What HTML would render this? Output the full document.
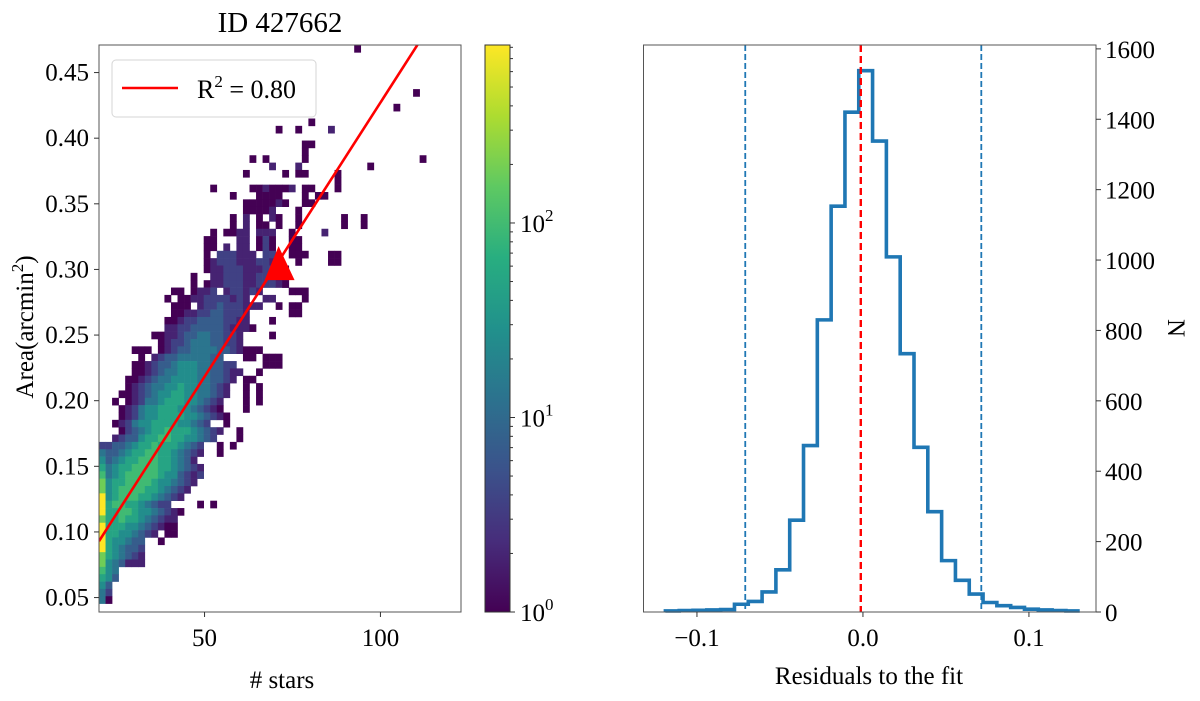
<!DOCTYPE html>
<html><head><meta charset="utf-8"><style>
body{margin:0;background:#fff}
svg{display:block;font-family:"Liberation Serif",serif}
text{fill:#000}
</style></head><body>
<svg id="chart" width="1200" height="701" viewBox="0 0 1200 701" xmlns="http://www.w3.org/2000/svg"></svg>
<script>
// ---- heatmap data: rows from top (high area) to bottom; "col:levels" segments, level 0..9 = log count scaled
const heatRows = [
"39:0","","","","","","48:0","","45:0","","32:0","27:0 30:0 35:1","","31:00","31:0","23:0 25:0 31:0 49:0",
"26:1 30:1 41:0","22:0 28:0 30:0 31:0 36:0","36:0","17:0 23:001000 29:1 31:00 36:0",
"20:0 24:0000 31:0 33:00","22:0000010 31:00","22:00000 26:1 30:0","20:0 22:1 24:0 26:1 27:0 30:0 37:0 40:0",
"20:0 22:1 24:00 27:0 30:0 37:0 40:0","17:0 19:00 21:11 24:111 29:0 34:1","16:00 21:11 24:0 25:2 26:0 29:00",
"16:00 19:1 21:11 24:020 29:00","16:0 18:2221 22:11 25:22 29:0 30:00 35:00","16:01222111221 30:0 35:00",
"16:01122211122 27:00","14:0 17:11222112211 27:00","14:0 16:0112221122211 28:0","11:00 14:0112 19:122121 29:000",
"10:0 12:0 13:0112222121 25:11 31:0","11:000 15:1223222111 27:0 29:00","11:001122332221 29:00",
"10:0012233332211 26:0","10:11223333321110","8:00 10:112334433221 26:0","9:0122344433221",
"5:000 9:0123344443321 22:000","6:0 8:12334444433 22:00 25:000","5:0012334555443322 25:000",
"5:00123445554433211 24:0","4:00123445555443321 22:00","4:0123445565544321 22:0 24:0",
"3:00123455665544321 22:0 24:0","2:0 4:012445666554321 22:0 24:0","3:0124556665543210 22:0",
"3:01245566665543210","2:012455666655432 19:0","3:0234566766654321 21:0","2:1233566776655432 21:0",
"0:2 1:233456676665432 18:0 20:0","0:4334566776654321 18:0","0:534566777665431","0:6456677776654321",
"0:7456777776553212","0:856677776554321","0:85677776654321","0:9567776654321","0:96776654322 15:0 17:0",
"0:9667765543210","0:866766543211","0:96665543210 10:00","0:966554321 10:00","0:9655433 9:0","0:9654332",
"0:8654321","0:8543111","0:754","0:653","0:53","0:42","0:40"
];
const fitIntercept = 0.00946, fitSlope = 0.004177;
const markerPoint = [71.9, 0.301];
const yTicksL = [0.05,0.10,0.15,0.20,0.25,0.30,0.35,0.40,0.45];
const xTicksL = [50,100];
// ---- histogram data
const histStart = -0.119, histWidth = 0.00832;
const histCounts = [3,4,5,6,7,22,30,57,120,261,473,830,1153,1420,1538,1338,1009,734,468,285,146,90,51,27,18,13,8,6,4,3];
const vLinesBlue = [-0.0709, 0.0713];
const vLineRed = -0.0013;
const xTicksR = [-0.1,0.0,0.1];
const xTickLabelsR = ["\u22120.1","0.0","0.1"];
const yTicksR = [0,200,400,600,800,1000,1200,1400,1600];

const svg = document.getElementById('chart');
const NS = "http://www.w3.org/2000/svg";
function mk(tag, attrs, parent){const e=document.createElementNS(NS,tag);for(const k in attrs)e.setAttribute(k,attrs[k]);(parent||svg).appendChild(e);return e;}
const vir=["#440154","#472d7b","#3b528b","#2c728e","#21918c","#28ae80","#5ec962","#addc30","#fde725"];
function viridis(t){t=Math.max(0,Math.min(1,t));const p=t*8,i=Math.min(7,Math.floor(p)),f=p-i;
 const a=vir[i],b=vir[i+1];const c=k=>Math.round(parseInt(a.substr(k,2),16)*(1-f)+parseInt(b.substr(k,2),16)*f);
 return `rgb(${c(1)},${c(3)},${c(5)})`;}

// ---------- LEFT PANEL ----------
const L={x0:99,x1:461,y0:45,y1:612,xmin:20,xmax:122.9,ymin:0.039,ymax:0.471};
const sx=v=>L.x0+(v-L.xmin)/(L.xmax-L.xmin)*(L.x1-L.x0);
const sy=v=>L.y1-(v-L.ymin)/(L.ymax-L.ymin)*(L.y1-L.y0);
const dxBin=1.86, dyBin=0.0056;
const gHeat=mk('g',{});


heatRows.forEach((row,t)=>{
 if(!row)return;
 row.split(' ').forEach(seg=>{
  const [c0,lv]=seg.split(':');
  for(let k=0;k<lv.length;k++){
   const ch=lv[k]; if(ch==='.')continue;
   const c=+c0+k, L9=+ch;
   const xa=L.xmin+c*dxBin, yt=L.ymax-t*dyBin;
   const r=mk('rect',{x:sx(xa),y:sy(yt),width:sx(xa+dxBin)-sx(xa)+0.3,height:sy(yt-dyBin)-sy(yt)+0.3,fill:viridis(L9===9?1:L9/10.3)},gHeat);
   
   
  }
 });
});
mk('clipPath',{id:'clipL'}); mk('rect',{x:L.x0,y:L.y0,width:L.x1-L.x0,height:L.y1-L.y0},svg.lastChild);
const xe=(L.ymax-fitIntercept)/fitSlope;
const fit=mk('line',{x1:sx(L.xmin),y1:sy(fitIntercept+fitSlope*L.xmin),x2:sx(xe+2),y2:sy(fitIntercept+fitSlope*(xe+2)),stroke:'#ff0000','stroke-width':2.6,'clip-path':'url(#clipL)'});


const mx=sx(markerPoint[0]),my=sy(markerPoint[1]);
const tri=mk('polygon',{points:`${mx-3},${my-22} ${mx-17},${my+12} ${mx+13},${my+12}`,fill:'#ff0000'});


const frameL=mk('rect',{x:L.x0,y:L.y0,width:L.x1-L.x0,height:L.y1-L.y0,fill:'none',stroke:'#555','stroke-width':1});


yTicksL.forEach(v=>{
 mk('line',{x1:L.x0-5,x2:L.x0,y1:sy(v),y2:sy(v),stroke:'#333'});
 const t=mk('text',{x:L.x0-10,y:sy(v)+8,'font-size':25,'text-anchor':'end'});t.textContent=v.toFixed(2);
 
 
});
xTicksL.forEach(v=>{
 mk('line',{x1:sx(v),x2:sx(v),y1:L.y1,y2:L.y1+5,stroke:'#333'});
 const t=mk('text',{x:sx(v),y:L.y1+34,'font-size':25,'text-anchor':'middle'});t.textContent=v;
 
 
});
const leg=mk('g',{});


mk('rect',{x:112,y:60,width:204,height:57,rx:4,fill:'#fff','fill-opacity':0.85,stroke:'#d6d6d6'},leg);
mk('line',{x1:122,x2:178,y1:88,y2:88,stroke:'#ff0000','stroke-width':2.6},leg);
const lt=mk('text',{x:197,y:98,'font-size':26},leg);
lt.innerHTML='R<tspan dy="-11" font-size="17">2</tspan><tspan dy="11"> = 0.80</tspan>';
const title=mk('text',{x:280,y:32,'font-size':29,'text-anchor':'middle'});title.textContent='ID 427662';


const xl=mk('text',{x:282,y:688,'font-size':25,'text-anchor':'middle'});xl.textContent='# stars';


const yl=mk('text',{x:0,y:0,'font-size':25,'text-anchor':'middle',transform:'translate(33,327) rotate(-90)'});
yl.innerHTML='Area(arcmin<tspan dy="-10" font-size="17">2</tspan><tspan dy="10">)</tspan>';



const C={x0:485,x1:510,y0:45,y1:612,lmax:2.915};
const defs=mk('defs',{});
const lg=mk('linearGradient',{id:'vg',x1:0,y1:1,x2:0,y2:0},defs);
vir.forEach((c,i)=>mk('stop',{offset:i/8,'stop-color':c},lg));
const cb=mk('rect',{x:C.x0,y:C.y0,width:C.x1-C.x0,height:C.y1-C.y0,fill:'url(#vg)',stroke:'#333','stroke-width':1});


const cy=l=>C.y1-l/C.lmax*(C.y1-C.y0);
for(let d=0;d<3;d++)for(let m=1;m<10;m++){const l=d+Math.log10(m);if(l>C.lmax)break;
 mk('line',{x1:C.x1,x2:C.x1+(m===1?5:3),y1:cy(l),y2:cy(l),stroke:'#333'});
 if(m===1){const t=mk('text',{x:C.x1+10,y:cy(l)+9,'font-size':25});t.innerHTML='10<tspan dy="-11" font-size="17">'+d+'</tspan>';
  
  }
}

const R={x0:643.5,x1:1096,y0:45,y1:612,xmin:-0.1322,xmax:0.1404,ymax:1611};
const rx=v=>R.x0+(v-R.xmin)/(R.xmax-R.xmin)*(R.x1-R.x0);
const ry=v=>R.y1-v/R.ymax*(R.y1-R.y0);
vLinesBlue.forEach(v=>{const l=mk('line',{x1:rx(v),x2:rx(v),y1:R.y0,y2:R.y1,stroke:'#1f77b4','stroke-width':1.8,'stroke-dasharray':'6,3'});
 
 });
let d=`M${rx(histStart)},${ry(0)}`;
histCounts.forEach((c,i)=>{d+=` L${rx(histStart+i*histWidth)},${ry(c)} L${rx(histStart+(i+1)*histWidth)},${ry(c)}`;});
const hp=mk('path',{d:d,fill:'none',stroke:'#1f77b4','stroke-width':3.6,'stroke-linejoin':'miter'});


const rl=mk('line',{x1:rx(vLineRed),x2:rx(vLineRed),y1:R.y0,y2:R.y1,stroke:'#ff0000','stroke-width':2.4,'stroke-dasharray':'7,4'});


const frameR=mk('rect',{x:R.x0,y:R.y0,width:R.x1-R.x0,height:R.y1-R.y0,fill:'none',stroke:'#555','stroke-width':1});


xTicksR.forEach((v,i)=>{
 mk('line',{x1:rx(v),x2:rx(v),y1:R.y1,y2:R.y1+5,stroke:'#333'});
 const t=mk('text',{x:rx(v),y:R.y1+34,'font-size':25,'text-anchor':'middle'});t.textContent=xTickLabelsR[i];
 
 
});
yTicksR.forEach(v=>{
 mk('line',{x1:R.x1,x2:R.x1+5,y1:ry(v),y2:ry(v),stroke:'#333'});
 const t=mk('text',{x:R.x1+9,y:ry(v)+9,'font-size':25});t.textContent=v;
 
 
});
const xr=mk('text',{x:869,y:684,'font-size':25,'text-anchor':'middle'});xr.textContent='Residuals to the fit';


const nl=mk('text',{x:0,y:0,'font-size':25,'text-anchor':'middle',transform:'translate(1168,328) rotate(90)'});nl.textContent='N';


</script>
</body></html>
